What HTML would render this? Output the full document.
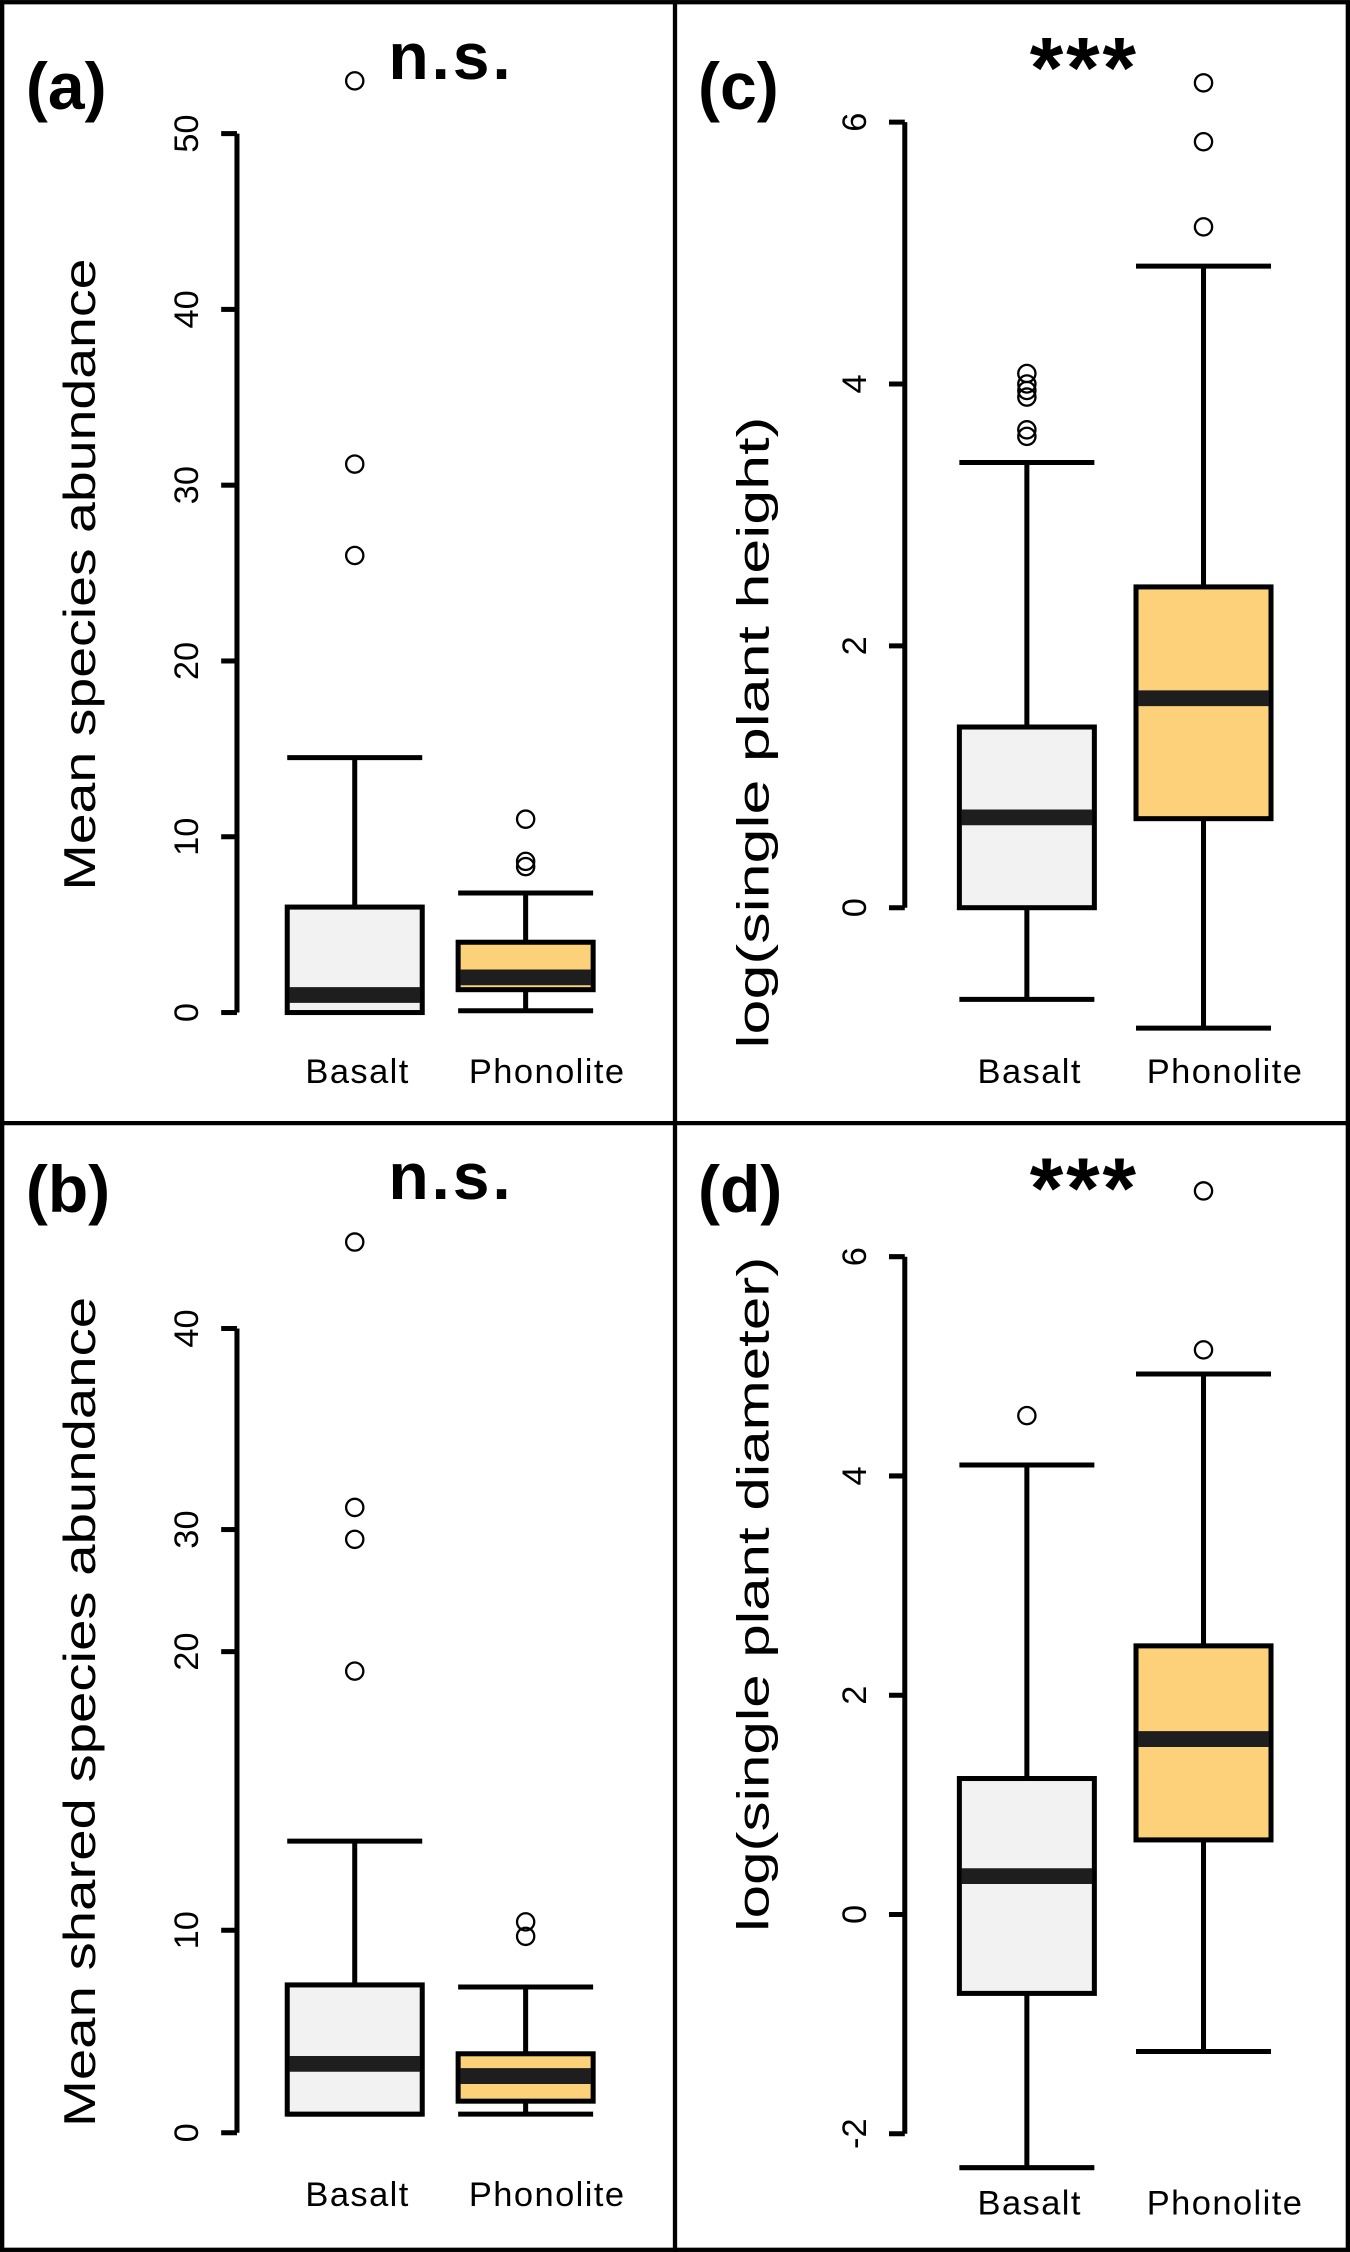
<!DOCTYPE html>
<html><head><meta charset="utf-8"><style>
html,body{margin:0;padding:0;background:#fff}
svg{display:block}
text{font-family:"Liberation Sans","DejaVu Sans",sans-serif;fill:#000}
</style></head><body>
<svg id="fig" width="1350" height="2252" viewBox="0 0 940 1568" xmlns="http://www.w3.org/2000/svg">
<rect x="1.5" y="1.5" width="937" height="1565" fill="#fff" stroke="#000" stroke-width="3"/>
<line x1="470" y1="0" x2="470" y2="1568" stroke="#000" stroke-width="3"/>
<line x1="0" y1="782" x2="940" y2="782" stroke="#000" stroke-width="3"/>
</svg>
<script>
const categories = ["Basalt", "Phonolite"];
// panel a
const aTicks = [0, 10, 20, 30, 40, 50];
const aBasalt = {min:0, q1:0, med:1, q3:6, max:14.5, out:[26, 31.2, 53]};
const aPhono = {min:0.1, q1:1.3, med:2, q3:4, max:6.8, out:[8.3, 8.6, 11]};
// panel b (axis drawn with irregular tick spacing)
const bTicks = [0, 10, 20, 30, 40];
const bBasalt = {min:0.92, q1:0.92, med:3.4, q3:7.3, max:13.2, out:[19.3, 29.2, 31.1, 44.3]};
const bPhono = {min:0.92, q1:1.56, med:2.8, q3:3.9, max:7.2, out:[9.7, 10.3]};
// panel c
const cTicks = [0, 2, 4, 6];
const cBasalt = {min:-0.7, q1:0, med:0.69, q3:1.38, max:3.4, out:[3.6, 3.65, 3.9, 3.95, 4.0, 4.08]};
const cPhono = {min:-0.92, q1:0.68, med:1.6, q3:2.45, max:4.9, out:[5.2, 5.85, 6.3]};
// panel d
const dTicks = [-2, 0, 2, 4, 6];
const dBasalt = {min:-2.31, q1:-0.72, med:0.35, q3:1.24, max:4.1, out:[4.55]};
const dPhono = {min:-1.25, q1:0.68, med:1.6, q3:2.45, max:4.93, out:[5.15, 6.6]};

const NS = "http://www.w3.org/2000/svg";
const svg = document.getElementById("fig");
function mk(tag, attrs, parent, txt){
  const e = document.createElementNS(NS, tag);
  for (const k in attrs) e.setAttribute(k, attrs[k]);
  if (txt !== undefined) e.textContent = txt;
  (parent || svg).appendChild(e);
  return e;
}
function linScale(v0, y0, v1, y1){ return v => y0 + (v - v0) * (y1 - y0) / (v1 - v0); }
function pieceScale(vals, ys){
  return v => {
    let i = 0;
    while (i < vals.length - 2 && v > vals[i+1]) i++;
    return ys[i] + (v - vals[i]) * (ys[i+1] - ys[i]) / (vals[i+1] - vals[i]);
  };
}
const fills = ["#f2f2f2", "#fdd17a"];
const SW = 3.5;

function panel(p){
  const g = mk("g", {});
  
  
  const y = p.scale;
  const top = y(p.ticks[p.ticks.length-1]), bot = y(p.ticks[0]);
  const ax = mk("line", {x1:p.ax, y1:top, x2:p.ax, y2:bot, stroke:"#000", "stroke-width":SW}, g);
  
  
  p.ticks.forEach(t => {
    const ty = y(t);
    const tl = mk("line", {x1:p.ax-11, y1:ty, x2:p.ax, y2:ty, stroke:"#000", "stroke-width":SW}, g);
    
    
    const tx = mk("text", {x:0, y:0, "font-size":24, "text-anchor":"middle", transform:`translate(${p.ax-27},${ty}) rotate(-90)`}, g, String(t));
    
    
  });
  const yt = mk("text", {x:0, y:0, "font-size":31, "text-anchor":"middle", textLength:p.titleLen, lengthAdjust:"spacingAndGlyphs", transform:`translate(${p.titleX},${p.titleY}) rotate(-90)`}, g, p.title);
  
  
  const pl = mk("text", {x:p.lx, y:p.ly, "font-size":46, "font-weight":"bold"}, g, "(" + p.id + ")");
  
  
  const sg = mk("text", {x:p.sx, y:p.sy, "font-size":p.sSize, "font-weight":"bold", "text-anchor":"middle", "letter-spacing":2}, g, p.sig);
  
  
  p.data.forEach((d, i) => {
    const cx = p.cx[i], hw = 47;
    const bg = mk("g", {}, g);
    
    
    mk("line", {x1:cx, y1:y(d.max), x2:cx, y2:y(d.q3), stroke:"#000", "stroke-width":SW}, bg);
    mk("line", {x1:cx, y1:y(d.min), x2:cx, y2:y(d.q1), stroke:"#000", "stroke-width":SW}, bg);
    mk("line", {x1:cx-hw, y1:y(d.max), x2:cx+hw, y2:y(d.max), stroke:"#000", "stroke-width":SW}, bg);
    mk("line", {x1:cx-hw, y1:y(d.min), x2:cx+hw, y2:y(d.min), stroke:"#000", "stroke-width":SW}, bg);
    mk("rect", {x:cx-hw, y:y(d.q3), width:2*hw, height:Math.max(1, y(d.q1)-y(d.q3)), fill:fills[i], stroke:"#000", "stroke-width":SW}, bg);
    mk("line", {x1:cx-hw+1.5, y1:y(d.med), x2:cx+hw-1.5, y2:y(d.med), stroke:"#1e1e1e", "stroke-width":11}, bg);
    d.out.forEach(o => {
      const c = mk("circle", {cx:cx, cy:y(o), r:6, fill:"none", stroke:"#000", "stroke-width":1.6}, bg);
      
      
    });
    const xl = mk("text", {x:cx + (i ? 15 : 2), y:p.xly, "font-size":24, "text-anchor":"middle", "letter-spacing":1}, g, categories[i]);
    
    
  });
}

panel({id:"a", ax:165, ticks:aTicks, scale:linScale(0,705,50,93), data:[aBasalt,aPhono], cx:[247,366],
  title:"Mean species abundance", titleX:66, titleY:400, titleLen:440,
  lx:18, ly:76, sig:"n.s.", sx:314, sy:55, sSize:46, xly:754});
panel({id:"b", ax:165, ticks:bTicks, scale:pieceScale(bTicks,[1485,1344,1150,1065,925]), data:[bBasalt,bPhono], cx:[247,366],
  title:"Mean shared species abundance", titleX:66, titleY:1192, titleLen:578,
  lx:18, ly:844, sig:"n.s.", sx:314, sy:835, sSize:46, xly:1536});
panel({id:"c", ax:630, ticks:cTicks, scale:linScale(0,632,6,85), data:[cBasalt,cPhono], cx:[715,838],
  title:"log(single plant height)", titleX:535, titleY:510, titleLen:440,
  lx:486, ly:76, sig:"***", sx:755, sy:68, sSize:60, xly:754});
panel({id:"d", ax:630, ticks:dTicks, scale:linScale(0,1333,6,875), data:[dBasalt,dPhono], cx:[715,838],
  title:"log(single plant diameter)", titleX:535, titleY:1110, titleLen:470,
  lx:486, ly:844, sig:"***", sx:755, sy:848, sSize:60, xly:1542});
</script>
</body></html>
